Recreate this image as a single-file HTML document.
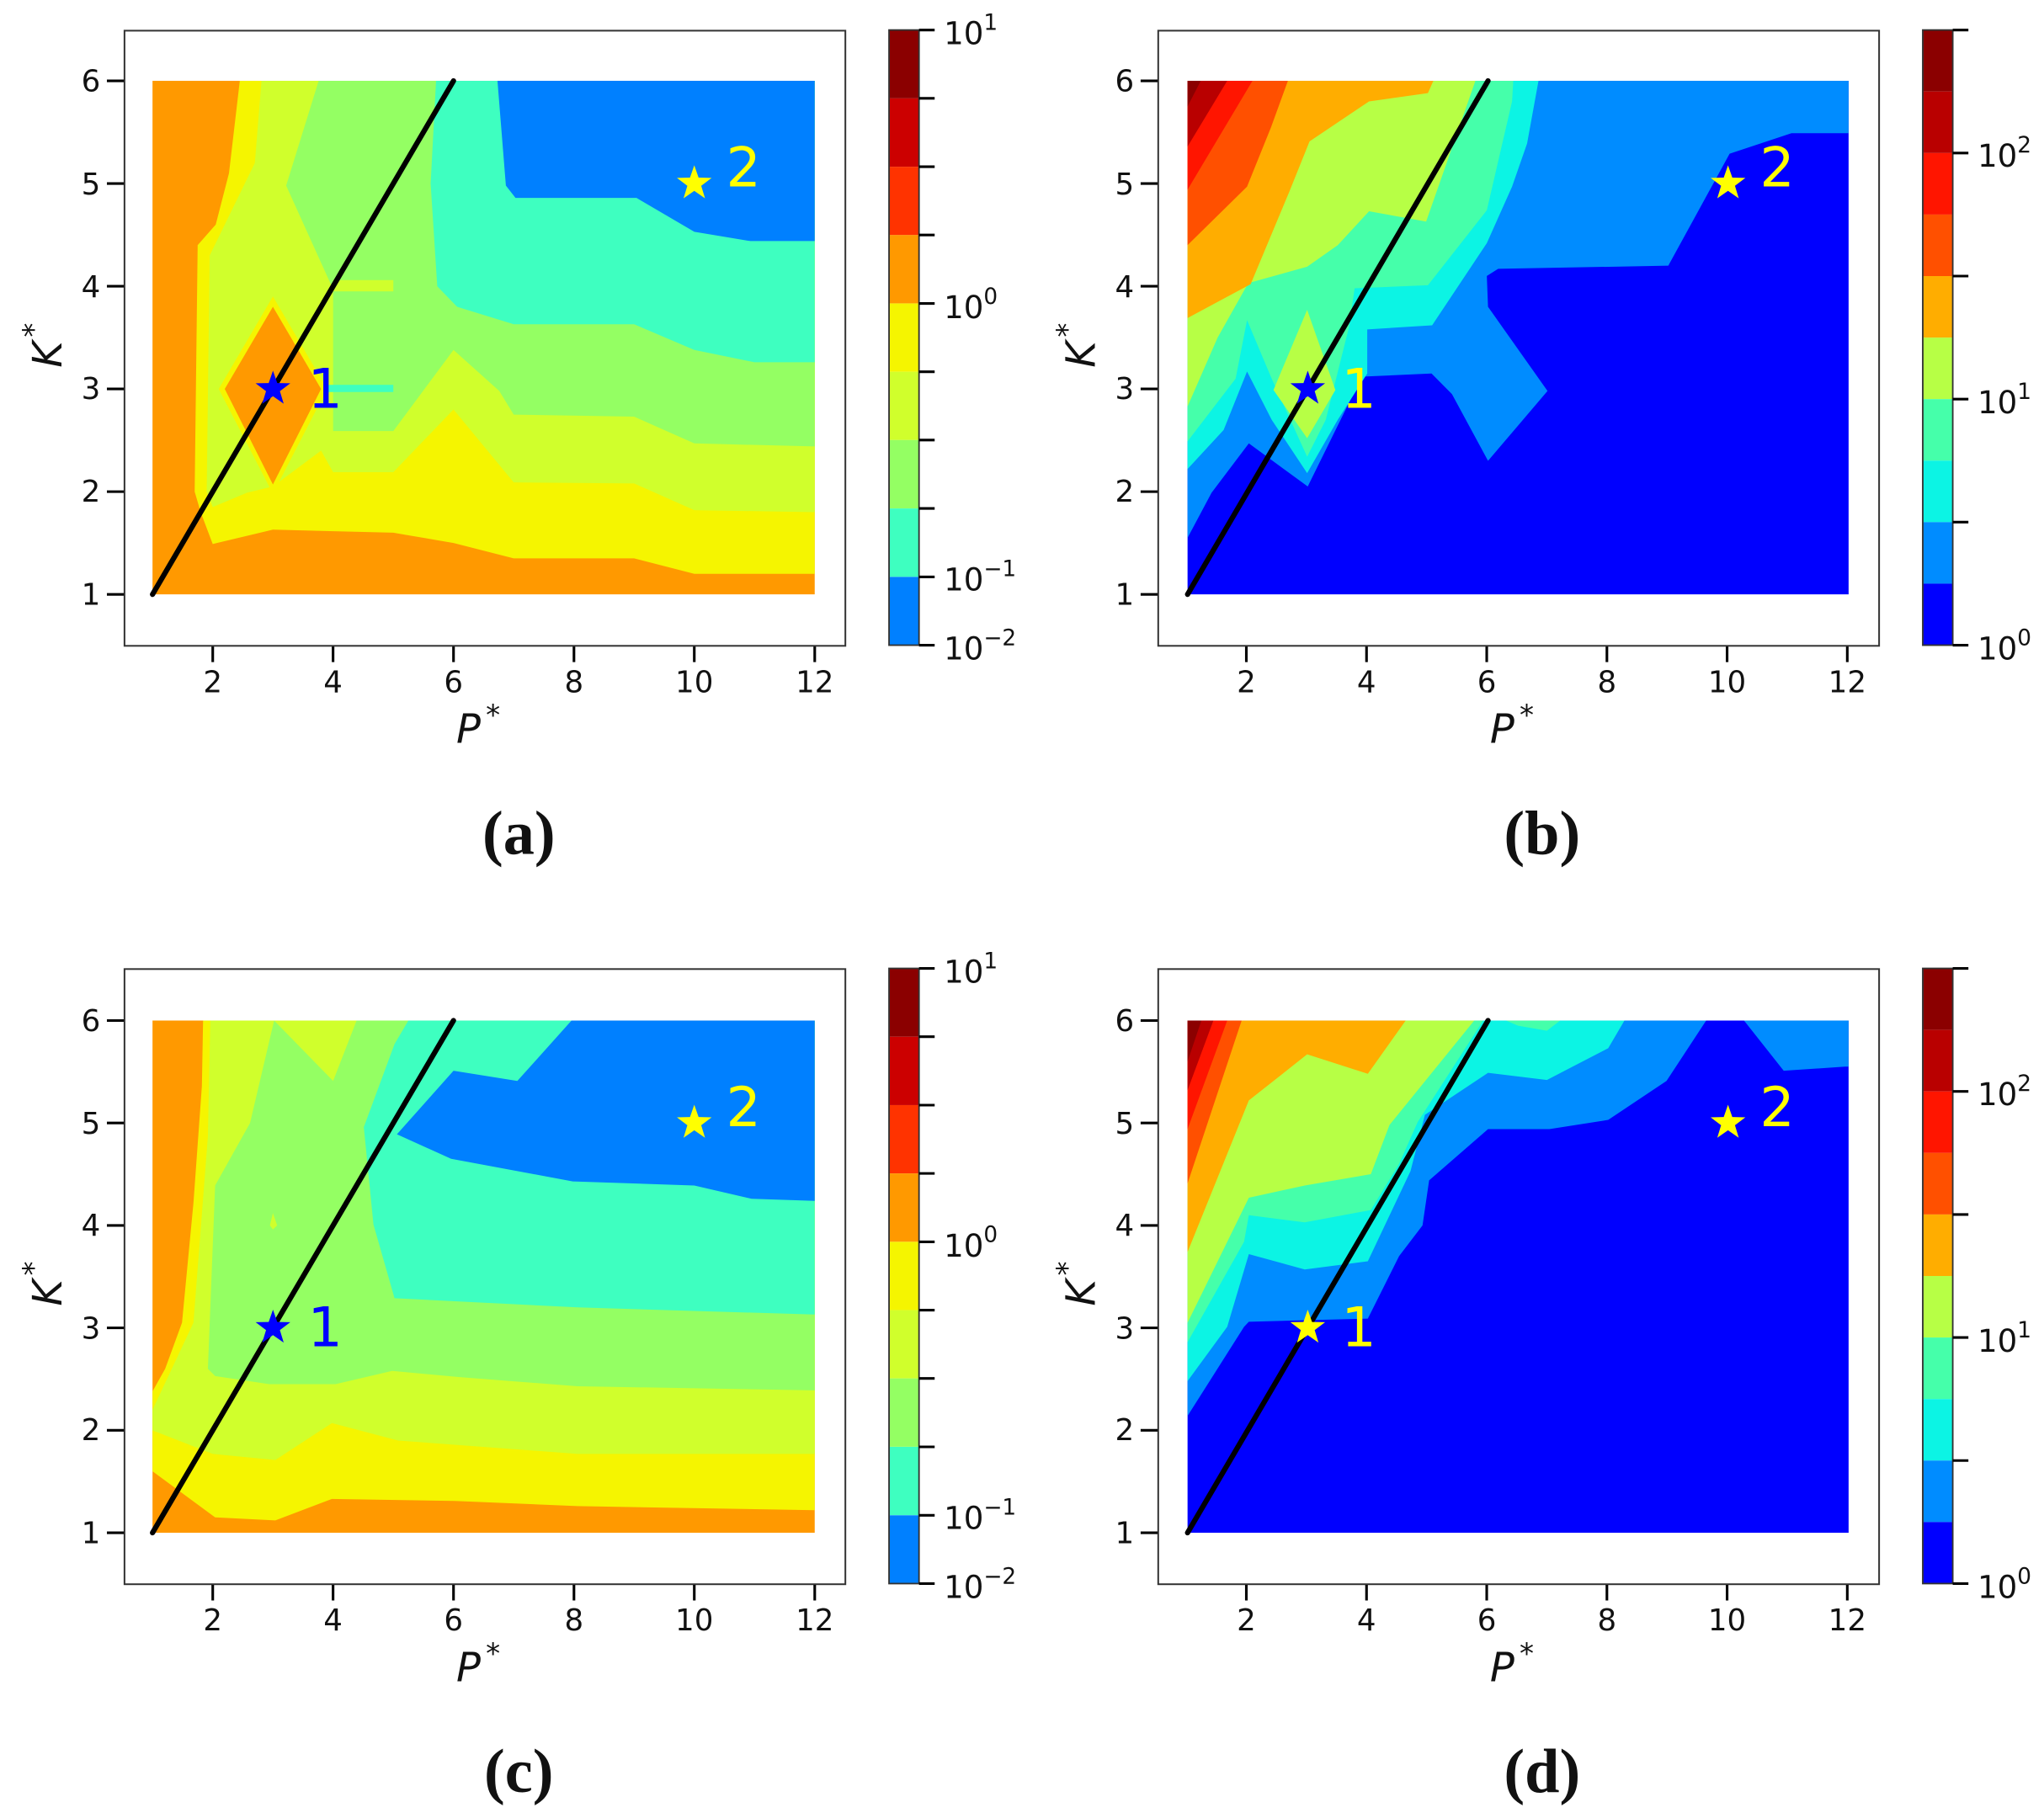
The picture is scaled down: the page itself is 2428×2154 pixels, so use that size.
<!DOCTYPE html>
<html><head><meta charset="utf-8"><style>
html,body{margin:0;padding:0;background:#fff;}
svg{display:block;}
text{font-family:"DejaVu Sans","Liberation Sans",sans-serif;}
.tk{font-size:23px;fill:#111;}
.cb{font-size:24px;fill:#111;}
.ax{font-size:31px;font-style:italic;fill:#111;}
.pl text{font-family:"Liberation Serif","DejaVu Serif",serif;font-size:48px;font-weight:bold;fill:#111;}
.num{font-size:42px;}
</style></head><body>
<svg width="2428" height="2154" viewBox="0 0 1568 1391" xmlns="http://www.w3.org/2000/svg">
<rect width="1568" height="1391" fill="#fff"/>
<defs>
<polygon id="star" points="0,-1 0.235,-0.324 0.951,-0.309 0.380,0.124 0.588,0.809 0,0.4 -0.588,0.809 -0.380,0.124 -0.951,-0.309 -0.235,-0.324"/>
</defs>

<!-- ================= PANEL A ================= -->
<g transform="translate(70.82,534.8) scale(46.18,-78.8)">
<rect x="1" y="1" width="11" height="5" fill="#ff9900"/>
<polygon fill="#f5f500" points="2.45,6 12,6 12,1.2 10,1.2 9,1.35 7,1.35 6,1.5 5,1.6 3,1.63 2,1.49 1.8,1.8 1.7,2 1.75,4.4 2.05,4.6 2.27,5.1"/>
<polygon fill="#d0ff2c" points="2.81,6 12,6 12,1.8 10,1.82 9,2.08 7,2.09 6,2.8 5,2.19 4,2.19 3.8,2.4 3,2.05 2.57,1.99 2,1.85 1.9,2 1.95,4.3 2.7,5.2"/>
<polygon fill="#94ff63" points="3.76,6 12,6 12,2.44 10,2.47 9,2.73 7,2.75 6.76,2.98 6,3.38 5,2.59 4,2.59 4,3.97 3.22,4.98"/>
<rect x="4" y="3.95" width="1" height="0.11" fill="#d0ff2c"/>
<rect x="3.7" y="2.97" width="1.3" height="0.07" fill="#3effc0"/>
<polygon fill="#3effc0" points="5.71,6 12,6 12,3.26 11,3.26 10,3.38 9,3.63 7,3.63 6.06,3.8 5.73,4.0 5.62,5"/>
<polygon fill="#0080ff" points="6.73,6 12,6 12,4.44 10.93,4.44 10,4.53 9.04,4.86 7.03,4.86 6.87,4.98"/>
<polygon fill="#f5f500" points="2.1,3 3,3.9 3.9,3 3,1.98"/>
<polygon fill="#ff9900" points="2.2,3 3,3.8 3.8,3 3,2.07"/>
</g>
<line x1="117" y1="456" x2="347.9" y2="62" stroke="#000" stroke-width="4" stroke-linecap="round"/>
<use href="#star" transform="translate(209.4,298.4) scale(14)" fill="#0000ff"/>
<text x="236" y="313" class="num" fill="#0000ff">1</text>
<use href="#star" transform="translate(532.6,140.8) scale(14)" fill="#ffff00"/>
<text x="557" y="143" class="num" fill="#ffff00">2</text>

<!-- ================= PANEL B ================= -->
<g transform="translate(864.9,534.8) scale(46.1,-78.8)">
<rect x="1" y="1" width="11" height="5" fill="#0000ff"/>
<polygon fill="#008cff" points="1,6 12,6 12,5.49 11.05,5.49 10.02,5.29 9,4.2 6.17,4.17 5.98,4.1 6,3.8 6.99,2.98 6,2.3 5.4,2.95 5.06,3.15 3.9,3.12 3,2.05 2.02,2.47 1.4,1.99 1,1.55"/>
<polygon fill="#0cf4e4" points="1,6 6.84,6 6.65,5.39 6.4,4.97 5.98,4.42 5.07,3.62 3.99,3.58 3.99,3.15 3.5,2.7 2.99,2.18 2.4,2.7 1.99,3.17 1.6,2.6 1,2.22"/>
<polygon fill="#45ffaa" points="1,6 6.42,6 6.4,5.8 5.98,4.74 5.0,4.01 3.78,3.98 3.69,3.61 3.3,2.7 2.99,2.34 2.4,3.1 1.99,3.67 1.8,3.1 1,2.49"/>
<polygon fill="#b7ff45" points="1,6 5.79,6 4.97,4.63 4.02,4.73 3.5,4.4 2.99,4.19 2.01,4.03 1.5,3.5 1,2.83"/>
<polygon fill="#b7ff45" points="2.43,2.99 2.99,3.77 3.46,2.99 2.99,2.52"/>
<polygon fill="#ffad00" points="1,6 5.09,6 5.0,5.88 4.02,5.80 3.03,5.41 2.7,4.93 2.05,4.02 1,3.69"/>
<polygon fill="#ff5000" points="1,6 2.67,6 2.39,5.55 1.99,4.97 1,4.40"/>
<polygon fill="#ff1500" points="1,6 2.08,6 1,4.94"/>
<polygon fill="#b90000" points="1,6 1.66,6 1,5.36"/>
<polygon fill="#8b0000" points="1,6 1.22,6 1,5.75"/>
</g>
<line x1="911" y1="456" x2="1141.5" y2="62" stroke="#000" stroke-width="4" stroke-linecap="round"/>
<use href="#star" transform="translate(1003.2,298.4) scale(14)" fill="#0000ff"/>
<text x="1029" y="313" class="num" fill="#ffff00">1</text>
<use href="#star" transform="translate(1325.6,140.8) scale(14)" fill="#ffff00"/>
<text x="1350" y="143" class="num" fill="#ffff00">2</text>

<!-- ================= PANEL C ================= -->
<g transform="translate(70.82,1254.6) scale(46.18,-78.6)">
<rect x="1" y="1" width="11" height="5" fill="#ff9900"/>
<polygon fill="#f5f500" points="1.84,6 12,6 12,1.22 8.06,1.26 6.02,1.31 3.98,1.33 3.04,1.12 2.04,1.15 1,1.60 1,2.38 1.21,2.6 1.49,3.05 1.68,4.22 1.82,5.36"/>
<polygon fill="#d0ff2c" points="1.96,6 12,6 12,1.77 8.06,1.77 5.08,1.9 3.98,2.07 3.04,1.71 2,1.77 1,2.0 1,2.2 1.68,3.05 1.92,4.87"/>
<polygon fill="#94ff63" points="3.02,6 4.0,5.41 4.39,6 12,6 12,2.39 8.06,2.43 6.08,2.52 4.98,2.58 4.04,2.45 2.94,2.45 2.04,2.53 1.92,2.6 2.04,4.39 2.62,5.0"/>
<polygon fill="#d0ff2c" points="3.0,4.12 3.07,4.0 3.0,3.96 2.95,4.0"/>
<polygon fill="#3effc0" points="5.25,6 12,6 12,3.13 8.06,3.2 6.02,3.26 5.02,3.29 4.67,4.01 4.51,4.96 5.02,5.77"/>
<polygon fill="#0080ff" points="7.96,6 12,6 12,4.24 10.95,4.26 10,4.39 7.98,4.43 5.96,4.65 5.06,4.89 6.0,5.51 7.06,5.41"/>
</g>
<line x1="117" y1="1176" x2="347.9" y2="783" stroke="#000" stroke-width="4" stroke-linecap="round"/>
<use href="#star" transform="translate(209.4,1018.8) scale(14)" fill="#0000ff"/>
<text x="236" y="1033" class="num" fill="#0000ff">1</text>
<use href="#star" transform="translate(532.6,861.6) scale(14)" fill="#ffff00"/>
<text x="557" y="864" class="num" fill="#ffff00">2</text>

<!-- ================= PANEL D ================= -->
<g transform="translate(864.9,1254.6) scale(46.1,-78.6)">
<rect x="1" y="1" width="11" height="5" fill="#0000ff"/>
<polygon fill="#008cff" points="1,6 9.63,6 8.97,5.41 8.0,5.03 7.02,4.94 6.0,4.94 5.02,4.44 4.91,4.0 4.52,3.7 4.0,3.09 2.02,3.06 1.94,3.01 1,2.14"/>
<polygon fill="#008cff" points="10.26,6 12,6 12,5.55 11.94,5.55 10.92,5.51"/>
<polygon fill="#0cf4e4" points="1,6 8.27,6 8.0,5.73 6.98,5.42 6.0,5.49 4.95,5.08 4.71,4.53 4.0,3.65 2.95,3.57 2.02,3.72 1.66,3.01 1,2.48"/>
<polygon fill="#45ffaa" points="1,6 5.92,6 4.83,5.01 4.52,4.6 4.05,4.15 2.95,4.03 2.02,4.1 1.94,3.84 1,2.86"/>
<polygon fill="#45ffaa" points="6.3,6 7.2,6 6.98,5.9 6.5,5.95"/>
<polygon fill="#b7ff45" points="1,6 5.77,6 4.36,4.98 4.05,4.5 2.95,4.39 2.02,4.27 1,3.05"/>
<polygon fill="#ffad00" points="1,6 4.63,6 4.0,5.48 2.99,5.67 2.02,5.22 1,3.74"/>
<polygon fill="#ff5000" points="1,6 1.9,6 1,4.41"/>
<polygon fill="#ff1500" points="1,6 1.66,6 1,4.94"/>
<polygon fill="#b90000" points="1,6 1.43,6 1,5.32"/>
<polygon fill="#8b0000" points="1,6 1.23,6 1,5.6"/>
</g>
<line x1="911" y1="1176" x2="1141.5" y2="783" stroke="#000" stroke-width="4" stroke-linecap="round"/>
<use href="#star" transform="translate(1003.2,1018.8) scale(14)" fill="#ffff00"/>
<text x="1029" y="1033" class="num" fill="#ffff00">1</text>
<use href="#star" transform="translate(1325.6,861.6) scale(14)" fill="#ffff00"/>
<text x="1350" y="864" class="num" fill="#ffff00">2</text>

<!-- ================= AXES FRAMES, TICKS, LABELS ================= -->
<g fill="none" stroke="#333" stroke-width="1.3">
<rect x="95.5" y="23.5" width="553" height="472"/>
<rect x="888.5" y="23.5" width="553" height="472"/>
<rect x="95.5" y="743.5" width="553" height="472"/>
<rect x="888.5" y="743.5" width="553" height="472"/>
</g>
<g stroke="#000" stroke-width="2">
<path d="M163.2 496v12M255.5 496v12M347.9 496v12M440.3 496v12M532.6 496v12M625 496v12"/>
<path d="M956.1 496v12M1048.3 496v12M1140.5 496v12M1232.7 496v12M1324.9 496v12M1417.1 496v12"/>
<path d="M163.2 1216v12M255.5 1216v12M347.9 1216v12M440.3 1216v12M532.6 1216v12M625 1216v12"/>
<path d="M956.1 1216v12M1048.3 1216v12M1140.5 1216v12M1232.7 1216v12M1324.9 1216v12M1417.1 1216v12"/>
<path d="M95 456h-13M95 377.2h-13M95 298.4h-13M95 219.6h-13M95 140.8h-13M95 62h-13"/>
<path d="M888 456h-13M888 377.2h-13M888 298.4h-13M888 219.6h-13M888 140.8h-13M888 62h-13"/>
<path d="M95 1176h-13M95 1097.4h-13M95 1018.8h-13M95 940.2h-13M95 861.6h-13M95 783h-13"/>
<path d="M888 1176h-13M888 1097.4h-13M888 1018.8h-13M888 940.2h-13M888 861.6h-13M888 783h-13"/>
</g>

<g class="tk" text-anchor="middle">
<text x="163.2" y="531">2</text><text x="255.5" y="531">4</text><text x="347.9" y="531">6</text><text x="440.3" y="531">8</text><text x="532.6" y="531">10</text><text x="625" y="531">12</text>
<text x="956.1" y="531">2</text><text x="1048.3" y="531">4</text><text x="1140.5" y="531">6</text><text x="1232.7" y="531">8</text><text x="1324.9" y="531">10</text><text x="1417.1" y="531">12</text>
<text x="163.2" y="1251">2</text><text x="255.5" y="1251">4</text><text x="347.9" y="1251">6</text><text x="440.3" y="1251">8</text><text x="532.6" y="1251">10</text><text x="625" y="1251">12</text>
<text x="956.1" y="1251">2</text><text x="1048.3" y="1251">4</text><text x="1140.5" y="1251">6</text><text x="1232.7" y="1251">8</text><text x="1324.9" y="1251">10</text><text x="1417.1" y="1251">12</text>
</g>
<g class="tk" text-anchor="end">
<text x="77" y="464">1</text><text x="77" y="385">2</text><text x="77" y="306">3</text><text x="77" y="228">4</text><text x="77" y="149">5</text><text x="77" y="70">6</text>
<text x="870" y="464">1</text><text x="870" y="385">2</text><text x="870" y="306">3</text><text x="870" y="228">4</text><text x="870" y="149">5</text><text x="870" y="70">6</text>
<text x="77" y="1184">1</text><text x="77" y="1105">2</text><text x="77" y="1027">3</text><text x="77" y="948">4</text><text x="77" y="870">5</text><text x="77" y="791">6</text>
<text x="870" y="1184">1</text><text x="870" y="1105">2</text><text x="870" y="1027">3</text><text x="870" y="948">4</text><text x="870" y="870">5</text><text x="870" y="791">6</text>
</g>

<text class="ax" x="350" y="570">P<tspan font-style="normal" font-size="22" dy="-14" dx="4">*</tspan></text>
<text class="ax" x="1143" y="570">P<tspan font-style="normal" font-size="22" dy="-14" dx="4">*</tspan></text>
<text class="ax" x="350" y="1290">P<tspan font-style="normal" font-size="22" dy="-14" dx="4">*</tspan></text>
<text class="ax" x="1143" y="1290">P<tspan font-style="normal" font-size="22" dy="-14" dx="4">*</tspan></text>
<text class="ax" transform="translate(47,282) rotate(-90)">K<tspan font-style="normal" font-size="22" dy="-14" dx="3">*</tspan></text>
<text class="ax" transform="translate(840,282) rotate(-90)">K<tspan font-style="normal" font-size="22" dy="-14" dx="3">*</tspan></text>
<text class="ax" transform="translate(47,1002) rotate(-90)">K<tspan font-style="normal" font-size="22" dy="-14" dx="3">*</tspan></text>
<text class="ax" transform="translate(840,1002) rotate(-90)">K<tspan font-style="normal" font-size="22" dy="-14" dx="3">*</tspan></text>

<g class="pl" text-anchor="middle">
<text x="398" y="655">(a)</text>
<text x="1183" y="655">(b)</text>
<text x="398" y="1375">(c)</text>
<text x="1183" y="1375">(d)</text>
</g>

<!-- ================= COLORBARS ================= -->
<g>
<rect x="682" y="23" width="23" height="52.44" fill="#8b0000"/>
<rect x="682" y="75.44" width="23" height="52.44" fill="#cc0000"/>
<rect x="682" y="127.9" width="23" height="52.44" fill="#ff3300"/>
<rect x="682" y="180.3" width="23" height="52.44" fill="#ff9900"/>
<rect x="682" y="232.8" width="23" height="52.44" fill="#f5f500"/>
<rect x="682" y="285.2" width="23" height="52.44" fill="#d0ff2c"/>
<rect x="682" y="337.6" width="23" height="52.44" fill="#94ff63"/>
<rect x="682" y="390.1" width="23" height="52.44" fill="#3effc0"/>
<rect x="682" y="442.6" width="23" height="52.44" fill="#0080ff"/>
<rect x="682" y="23" width="23" height="472" fill="none" stroke="#333" stroke-width="1.2"/>
<path stroke="#000" stroke-width="2" d="M705 23h12M705 75.4h12M705 127.9h12M705 180.3h12M705 232.8h12M705 285.2h12M705 337.6h12M705 390.1h12M705 442.6h12M705 495h12"/>
</g>
<g class="cb">
<text x="724" y="34">10<tspan font-size="17" dy="-11">1</tspan></text>
<text x="724" y="244">10<tspan font-size="17" dy="-11">0</tspan></text>
<text x="724" y="453">10<tspan font-size="17" dy="-11">−1</tspan></text>
<text x="724" y="506">10<tspan font-size="17" dy="-11">−2</tspan></text>
</g>
<g>
<rect x="682" y="743" width="23" height="52.44" fill="#8b0000"/>
<rect x="682" y="795.44" width="23" height="52.44" fill="#cc0000"/>
<rect x="682" y="847.9" width="23" height="52.44" fill="#ff3300"/>
<rect x="682" y="900.3" width="23" height="52.44" fill="#ff9900"/>
<rect x="682" y="952.8" width="23" height="52.44" fill="#f5f500"/>
<rect x="682" y="1005.2" width="23" height="52.44" fill="#d0ff2c"/>
<rect x="682" y="1057.6" width="23" height="52.44" fill="#94ff63"/>
<rect x="682" y="1110.1" width="23" height="52.44" fill="#3effc0"/>
<rect x="682" y="1162.6" width="23" height="52.44" fill="#0080ff"/>
<rect x="682" y="743" width="23" height="472" fill="none" stroke="#333" stroke-width="1.2"/>
<path stroke="#000" stroke-width="2" d="M705 743h12M705 795.4h12M705 847.9h12M705 900.3h12M705 952.8h12M705 1005.2h12M705 1057.6h12M705 1110.1h12M705 1162.6h12M705 1215h12"/>
</g>
<g class="cb">
<text x="724" y="754">10<tspan font-size="17" dy="-11">1</tspan></text>
<text x="724" y="964">10<tspan font-size="17" dy="-11">0</tspan></text>
<text x="724" y="1173">10<tspan font-size="17" dy="-11">−1</tspan></text>
<text x="724" y="1226">10<tspan font-size="17" dy="-11">−2</tspan></text>
</g>
<g>
<rect x="1475" y="23" width="23" height="47.2" fill="#8b0000"/>
<rect x="1475" y="70.2" width="23" height="47.2" fill="#b90000"/>
<rect x="1475" y="117.4" width="23" height="47.2" fill="#ff1500"/>
<rect x="1475" y="164.6" width="23" height="47.2" fill="#ff5000"/>
<rect x="1475" y="211.8" width="23" height="47.2" fill="#ffad00"/>
<rect x="1475" y="259" width="23" height="47.2" fill="#b7ff45"/>
<rect x="1475" y="306.2" width="23" height="47.2" fill="#45ffaa"/>
<rect x="1475" y="353.4" width="23" height="47.2" fill="#0cf4e4"/>
<rect x="1475" y="400.6" width="23" height="47.2" fill="#008cff"/>
<rect x="1475" y="447.8" width="23" height="47.2" fill="#0000ff"/>
<rect x="1475" y="23" width="23" height="472" fill="none" stroke="#333" stroke-width="1.2"/>
<path stroke="#000" stroke-width="2" d="M1498 23h12M1498 117.4h12M1498 211.8h12M1498 306.2h12M1498 400.6h12M1498 495h12"/>
</g>
<g class="cb">
<text x="1517" y="128">10<tspan font-size="17" dy="-11">2</tspan></text>
<text x="1517" y="317">10<tspan font-size="17" dy="-11">1</tspan></text>
<text x="1517" y="506">10<tspan font-size="17" dy="-11">0</tspan></text>
</g>
<g>
<rect x="1475" y="743" width="23" height="47.2" fill="#8b0000"/>
<rect x="1475" y="790.2" width="23" height="47.2" fill="#b90000"/>
<rect x="1475" y="837.4" width="23" height="47.2" fill="#ff1500"/>
<rect x="1475" y="884.6" width="23" height="47.2" fill="#ff5000"/>
<rect x="1475" y="931.8" width="23" height="47.2" fill="#ffad00"/>
<rect x="1475" y="979" width="23" height="47.2" fill="#b7ff45"/>
<rect x="1475" y="1026.2" width="23" height="47.2" fill="#45ffaa"/>
<rect x="1475" y="1073.4" width="23" height="47.2" fill="#0cf4e4"/>
<rect x="1475" y="1120.6" width="23" height="47.2" fill="#008cff"/>
<rect x="1475" y="1167.8" width="23" height="47.2" fill="#0000ff"/>
<rect x="1475" y="743" width="23" height="472" fill="none" stroke="#333" stroke-width="1.2"/>
<path stroke="#000" stroke-width="2" d="M1498 743h12M1498 837.4h12M1498 931.8h12M1498 1026.2h12M1498 1120.6h12M1498 1215h12"/>
</g>
<g class="cb">
<text x="1517" y="848">10<tspan font-size="17" dy="-11">2</tspan></text>
<text x="1517" y="1037">10<tspan font-size="17" dy="-11">1</tspan></text>
<text x="1517" y="1226">10<tspan font-size="17" dy="-11">0</tspan></text>
</g>
</svg>
</body></html>
